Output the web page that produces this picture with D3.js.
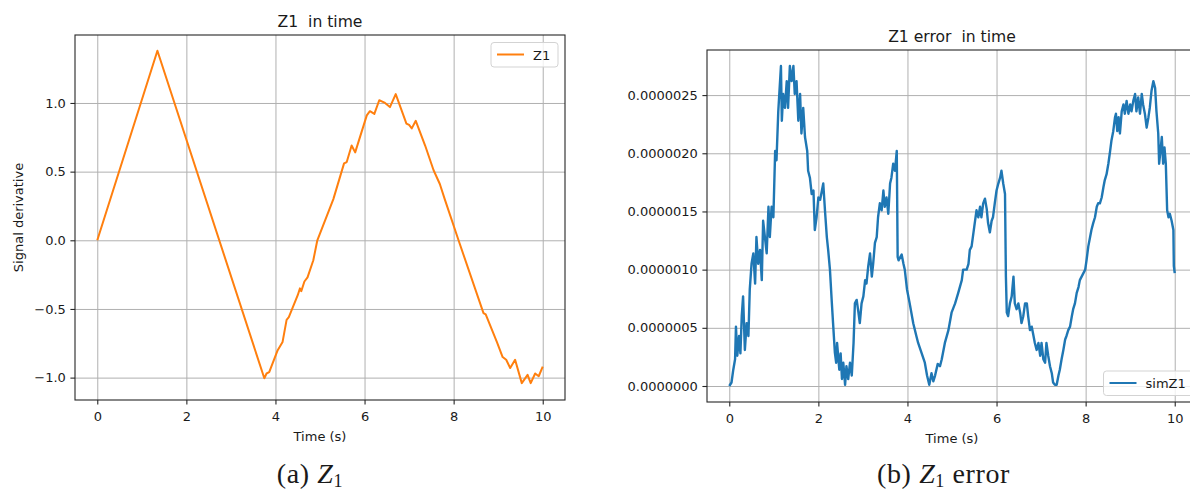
<!DOCTYPE html>
<html>
<head>
<meta charset="utf-8">
<script src="https://cdn.jsdelivr.net/npm/d3@7"></script>
<style>
  html, body { margin: 0; padding: 0; background: #fff; }
  svg { display: block; }
  text { font-family: "DejaVu Sans", sans-serif; fill: #1a1a1a; }
</style>
</head>
<body>
<svg id="fig" width="1190" height="491"></svg>
<script>
// ---- Z1 signal derivative over time ----
const z1Time = [0, 1.35, 3.75, 3.80, 3.86, 4.05, 4.16, 4.25, 4.30, 4.50, 4.55, 4.58, 4.65, 4.72, 4.85,
  4.94, 5.30, 5.54, 5.60, 5.71, 5.79, 6.05, 6.12, 6.22, 6.33, 6.40, 6.46, 6.57, 6.70, 6.94, 7.00,
  7.06, 7.15, 7.36, 7.55, 7.69, 7.80, 8.11, 8.67, 8.72, 8.97, 9.10, 9.18, 9.27, 9.38, 9.53, 9.66,
  9.73, 9.83, 9.91, 10.0];
const z1Value = [0, 1.38, -1.005, -0.97, -0.96, -0.80, -0.74, -0.58, -0.56, -0.40, -0.35, -0.37, -0.30, -0.27, -0.145,
  0.0, 0.30, 0.56, 0.57, 0.69, 0.64, 0.91, 0.94, 0.92, 1.02, 1.01, 1.00, 0.97, 1.065, 0.85, 0.84,
  0.815, 0.87, 0.69, 0.51, 0.41, 0.30, 0.0, -0.53, -0.54, -0.74, -0.85, -0.87, -0.93, -0.87, -1.04, -0.98,
  -1.04, -0.97, -0.99, -0.92];

// ---- Z1 simulation error over time (values in units of 1e-6) ----
const errTime = [0, .05, .09, .13, .15, .18, .22, .25, .28, .31, .35, .39, .43, .46, .50, .54, .58, .61, .65, .69,
  .73, .76, .80, .84, .88, .91, .95, .99, 1.03, 1.06, 1.10, 1.14, 1.16, 1.18, 1.21, 1.25, 1.29, 1.32, 1.36, 1.40,
  1.44, 1.47, 1.51, 1.55, 1.59, 1.62, 1.66, 1.70, 1.75, 1.77, 1.81, 1.85, 1.89, 1.92, 1.96, 2.00,
  2.04, 2.08, 2.11, 2.15, 2.19, 2.22, 2.26, 2.30, 2.33, 2.37, 2.40, 2.42, 2.47, 2.50, 2.53, 2.56, 2.60, 2.63,
  2.67, 2.71, 2.75, 2.79, 2.82, 2.86, 2.90, 2.93, 2.97, 3.01, 3.05, 3.08, 3.12, 3.16, 3.20, 3.23, 3.27, 3.31,
  3.34, 3.38, 3.42, 3.46, 3.49, 3.53, 3.57, 3.61, 3.64, 3.68, 3.72, 3.76, 3.78, 3.80, 3.87, 3.91, 3.94, 3.99,
  4.05, 4.13, 4.20, 4.24, 4.32, 4.39, 4.44, 4.49, 4.54, 4.58,
  4.62, 4.68, 4.73, 4.77, 4.84, 4.92, 4.99, 5.07, 5.14, 5.22, 5.25, 5.33, 5.37, 5.40, 5.44, 5.50, 5.55, 5.59,
  5.63, 5.66, 5.70, 5.74, 5.78, 5.81, 5.85, 5.89, 5.92, 5.96, 6.00, 6.04, 6.08, 6.11, 6.15, 6.19, 6.21, 6.23,
  6.26, 6.30, 6.34, 6.38, 6.41, 6.45, 6.49, 6.53, 6.56, 6.60, 6.64, 6.68, 6.71, 6.75, 6.79, 6.83, 6.86, 6.90, 6.94,
  6.98, 7.01, 7.05, 7.09, 7.12, 7.16, 7.20, 7.24, 7.27, 7.31, 7.35, 7.39, 7.42, 7.46, 7.50, 7.54, 7.57, 7.61,
  7.65, 7.69, 7.72, 7.76, 7.80, 7.84, 7.87, 7.95, 7.99, 8.02, 8.06, 8.10, 8.13, 8.17, 8.21, 8.25, 8.28, 8.32,
  8.36, 8.40, 8.43, 8.47, 8.51, 8.55, 8.58, 8.62, 8.66, 8.68, 8.71, 8.74, 8.77, 8.81, 8.85, 8.88, 8.92, 8.96,
  9.00, 9.03, 9.07, 9.11, 9.14, 9.18, 9.22, 9.26, 9.29, 9.33, 9.37, 9.41, 9.44, 9.48, 9.52, 9.56, 9.59, 9.63,
  9.65, 9.68, 9.71, 9.74, 9.77, 9.80, 9.83, 9.86, 9.89, 9.93, 9.97, 9.98, 10.0];
const errValue = [0, .03, .14, .23, .51, .26, .43, .28, .60, .77, .31, .54, .43, .83, 1.05, 1.14, .88, 1.28, 1.05, 1.17,
  .91, 1.42, 1.28, 1.14, 1.54, 1.28, 1.54, 1.45, 2.02, 1.94, 2.36, 2.62, 2.75, 2.28, 2.51, 2.39, 2.62, 2.39, 2.75, 2.62,
  2.75, 2.51, 2.62, 2.28, 2.51, 2.17, 2.39, 2.14, 2.02, 1.85, 1.79, 1.65, 1.68, 1.34, 1.45, 1.62,
  1.60, 1.68, 1.74, 1.50, 1.28, 1.17, 1.00, .73, .54, .29, .20, .37, .14, .28, .06, .20, .01, .17,
  .06, .20, .09, .37, .71, .74, .63, .54, .71, .77, .91, .88, 1.03, 1.14, .94, 1.05, 1.23, 1.28,
  1.45, 1.57, 1.51, 1.68, 1.54, 1.62, 1.48, 1.74, 1.79, 1.91, 1.85, 2.02, 1.11, 1.08, 1.13, 1.05, 1.00, .83,
  .71, .54, .43, .37, .28, .20, .09, .01, .11, .04,
  .09, .19, .17, .23, .37, .48, .63, .71, .80, .91, 1.00, 1.00, 1.05, 1.17, 1.20, 1.37, 1.51, 1.45,
  1.54, 1.45, 1.57, 1.61, 1.52, 1.40, 1.32, 1.42, 1.45, 1.57, 1.68, 1.74, 1.79, 1.85, 1.74, 1.65, .94, .63,
  .60, .71, .77, .94, .71, .66, .71, .63, .54, .60, .71, .71, .60, .48, .51, .43, .37, .31, .37,
  .26, .37, .23, .20, .37, .26, .17, .11, .03, .01, .01, .09, .14, .23, .31, .40, .43, .48,
  .51, .60, .66, .71, .80, .85, .91, .97, 1.00, 1.08, 1.20, 1.28, 1.34, 1.40, 1.45, 1.54, 1.57, 1.57,
  1.62, 1.71, 1.77, 1.82, 1.91, 2.02, 2.11, 2.19, 2.31, 2.34, 2.19, 2.31, 2.17, 2.36, 2.42, 2.34, 2.45, 2.34,
  2.42, 2.36, 2.45, 2.51, 2.36, 2.48, 2.34, 2.51, 2.42, 2.34, 2.22, 2.31, 2.39, 2.54, 2.62, 2.56, 2.36, 2.17,
  1.91, 2.02, 2.14, 1.91, 2.05, 1.91, 1.51, 1.45, 1.48, 1.42, 1.34, 1.03, .97];

// ---- tick values ----
const timeTicks = [0, 2, 4, 6, 8, 10];
const z1Ticks = [-1.0, -0.5, 0.0, 0.5, 1.0];
const errTicks = [0, 0.5, 1.0, 1.5, 2.0, 2.5];

const svg = d3.select("#fig");
svg.append("rect").attr("width", 1190).attr("height", 491).attr("fill", "#fff");

let clipId = 0;
function panel(o) {
  const x = d3.scaleLinear().domain([-0.5, 10.5]).range([o.x0, o.x1]);
  const y = d3.scaleLinear().domain(o.yDomain).range([o.y1, o.y0]);
  const g = svg.append("g");
  const w = o.x1 - o.x0, h = o.y1 - o.y0;

  // grid
  g.append("g")
    .attr("transform", `translate(0,${o.y1})`)
    .call(d3.axisBottom(x).tickValues(timeTicks).tickSize(-h).tickFormat(""))
    .call(s => s.select(".domain").remove())
    .selectAll("line").attr("stroke", "#b0b0b0").attr("stroke-width", 1);
  g.append("g")
    .attr("transform", `translate(${o.x0},0)`)
    .call(d3.axisLeft(y).tickValues(o.yTicks).tickSize(-w).tickFormat(""))
    .call(s => s.select(".domain").remove())
    .selectAll("line").attr("stroke", "#b0b0b0").attr("stroke-width", 1);

  // data line
  const id = "clip" + (clipId++);
  g.append("clipPath").attr("id", id).append("rect")
    .attr("x", o.x0).attr("y", o.y0).attr("width", w).attr("height", h);
  const pts = o.t.map((t, i) => [t, o.v[i]]);
  g.append("path")
    .attr("clip-path", `url(#${id})`)
    .attr("d", d3.line().x(d => x(d[0])).y(d => y(d[1]))(pts))
    .attr("fill", "none")
    .attr("stroke", o.color)
    .attr("stroke-width", o.lineWidth)
    .attr("stroke-linejoin", "round");

  // frame
  g.append("rect")
    .attr("x", o.x0).attr("y", o.y0).attr("width", w).attr("height", h)
    .attr("fill", "none").attr("stroke", "#262626").attr("stroke-width", 1.1);

  // axes
  const ax = g.append("g")
    .attr("transform", `translate(0,${o.y1})`)
    .call(d3.axisBottom(x).tickValues(timeTicks).tickSize(4.6).tickSizeOuter(0).tickPadding(7).tickFormat(d3.format("d")));
  const ay = g.append("g")
    .attr("transform", `translate(${o.x0},0)`)
    .call(d3.axisLeft(y).tickValues(o.yTicks).tickSize(4.6).tickSizeOuter(0).tickPadding(4.6).tickFormat(o.yFormat));
  [ax, ay].forEach(a => {
    a.select(".domain").remove();
    a.selectAll("line").attr("stroke", "#262626").attr("stroke-width", 1.1);
    a.selectAll("text").attr("font-size", 13).attr("font-family", "DejaVu Sans").attr("fill", "#1a1a1a");
  });

  // title and axis labels
  g.append("text").attr("x", (o.x0 + o.x1) / 2).attr("y", o.y0 - 8)
    .attr("text-anchor", "middle").attr("font-size", 15.6).style("white-space", "pre")
    .text(o.title);
  g.append("text").attr("x", o.xLabelX).attr("y", o.y1 + 41)
    .attr("text-anchor", "middle").attr("font-size", 13).text("Time (s)");
  if (o.yLabel) {
    g.append("text")
      .attr("transform", `translate(23,${(o.y0 + o.y1) / 2}) rotate(-90)`)
      .attr("text-anchor", "middle").attr("font-size", 13).text(o.yLabel);
  }

  // legend
  const L = o.legend;
  const lg = g.append("g");
  lg.append("rect").attr("x", L.x).attr("y", L.y).attr("width", L.w).attr("height", 24.5)
    .attr("rx", 3).attr("fill", "#fff").attr("fill-opacity", 0.8)
    .attr("stroke", "#d3d3d3").attr("stroke-width", 1);
  lg.append("line").attr("x1", L.x + 6).attr("x2", L.x + 33).attr("y1", L.y + 12).attr("y2", L.y + 12)
    .attr("stroke", o.color).attr("stroke-width", 2);
  lg.append("text").attr("x", L.x + 42).attr("y", L.y + 17).attr("font-size", 13).text(L.label);
}

panel({
  x0: 75, x1: 565, y0: 35, y1: 400,
  yDomain: [-1.163, 1.495], yTicks: z1Ticks, yFormat: d3.format(".1f"),
  t: z1Time, v: z1Value, color: "#ff7f0e", lineWidth: 2,
  title: "Z1  in time", xLabelX: 320, yLabel: "Signal derivative",
  legend: { x: 491, y: 42.5, w: 67, label: "Z1" }
});

panel({
  x0: 707, x1: 1197, y0: 50, y1: 402,
  yDomain: [-0.1375, 2.8875], yTicks: errTicks, yFormat: d => d3.format(".7f")(d / 1e6),
  t: errTime, v: errValue, color: "#1f77b4", lineWidth: 2.4,
  title: "Z1 error  in time", xLabelX: 952,
  legend: { x: 1103.5, y: 371, w: 92, label: "simZ1" }
});

// sub-figure captions
function caption(cx, label, tail) {
  const t = svg.append("text").attr("x", cx).attr("y", 483)
    .attr("text-anchor", "middle")
    .style("font-family", "'Liberation Serif', 'DejaVu Serif', serif")
    .attr("font-size", 28).attr("letter-spacing", 0.6).attr("fill", "#000");
  t.append("tspan").text(label + " ");
  t.append("tspan").attr("font-style", "italic").text("Z");
  t.append("tspan").attr("font-size", 18).attr("dy", 4).text("1");
  if (tail) t.append("tspan").attr("dy", -4).text(" " + tail);
}
caption(310, "(a)", "");
caption(943.5, "(b)", "error");
</script>
</body>
</html>
